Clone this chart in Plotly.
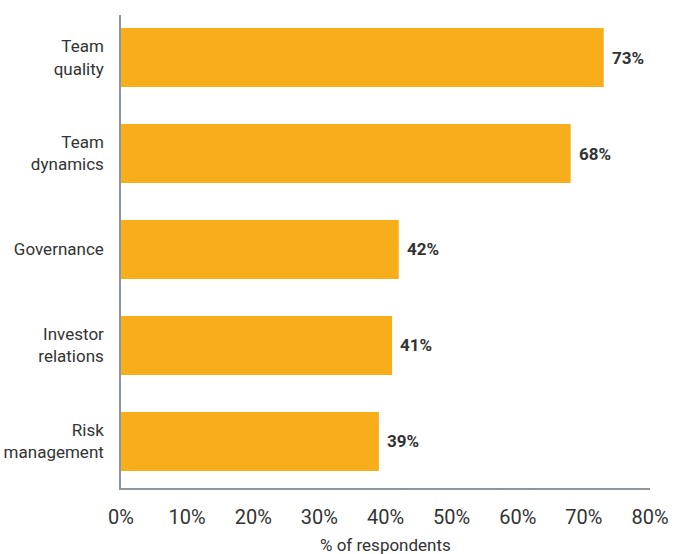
import plotly.graph_objects as go

categories = ["Team<br>quality", "Team<br>dynamics", "Governance", "Investor<br>relations", "Risk<br>management"]
values = [73, 68, 42, 41, 39]
tick_vals = [0, 10, 20, 30, 40, 50, 60, 70, 80]
tick_text = ["0%", "10%", "20%", "30%", "40%", "50%", "60%", "70%", "80%"]

BAR = "#F8AD1A"
TEXT = "#333333"
AXIS = "#8C949C"
FONT = "Roboto"

ypos = list(range(len(categories)))

fig = go.Figure(go.Bar(
    x=values,
    y=ypos,
    orientation="h",
    marker=dict(color=BAR, line=dict(width=0)),
    width=0.615,
    hoverinfo="skip",
))

# value labels placed just past the end of each bar
for v, yy in zip(values, ypos):
    fig.add_annotation(
        x=v, y=yy, xref="x", yref="y",
        text=f"<b>{v}%</b>", showarrow=False,
        xanchor="left", yanchor="middle", xshift=6,
        font=dict(family=FONT, size=17, color=TEXT),
    )

# axis title below the tick labels
fig.add_annotation(
    x=0.5, y=0, xref="paper", yref="paper",
    text="% of respondents", showarrow=False,
    xanchor="center", yanchor="middle", yshift=-57,
    font=dict(family=FONT, size=17, color=TEXT),
)

fig.update_layout(
    width=677, height=554,
    margin=dict(l=121, r=27, t=15, b=66, autoexpand=False),
    paper_bgcolor="white", plot_bgcolor="white",
    showlegend=False,
    font=dict(family=FONT, color=TEXT),
)

fig.update_xaxes(
    range=[0, 80],
    tickvals=tick_vals, ticktext=tick_text,
    tickfont=dict(family=FONT, size=20, color=TEXT),
    showgrid=False, zeroline=False,
    showline=True, linecolor=AXIS, linewidth=1.5,
    ticks="", ticklabelstandoff=10, automargin=False,
)

fig.update_yaxes(
    range=[4.485, -0.443],
    tickvals=ypos, ticktext=categories,
    tickfont=dict(family=FONT, size=17, color=TEXT),
    showgrid=False, zeroline=False,
    showline=True, linecolor=AXIS, linewidth=1.5,
    ticks="", ticklabelstandoff=12, automargin=False,
)

fig.write_html("out.html")
